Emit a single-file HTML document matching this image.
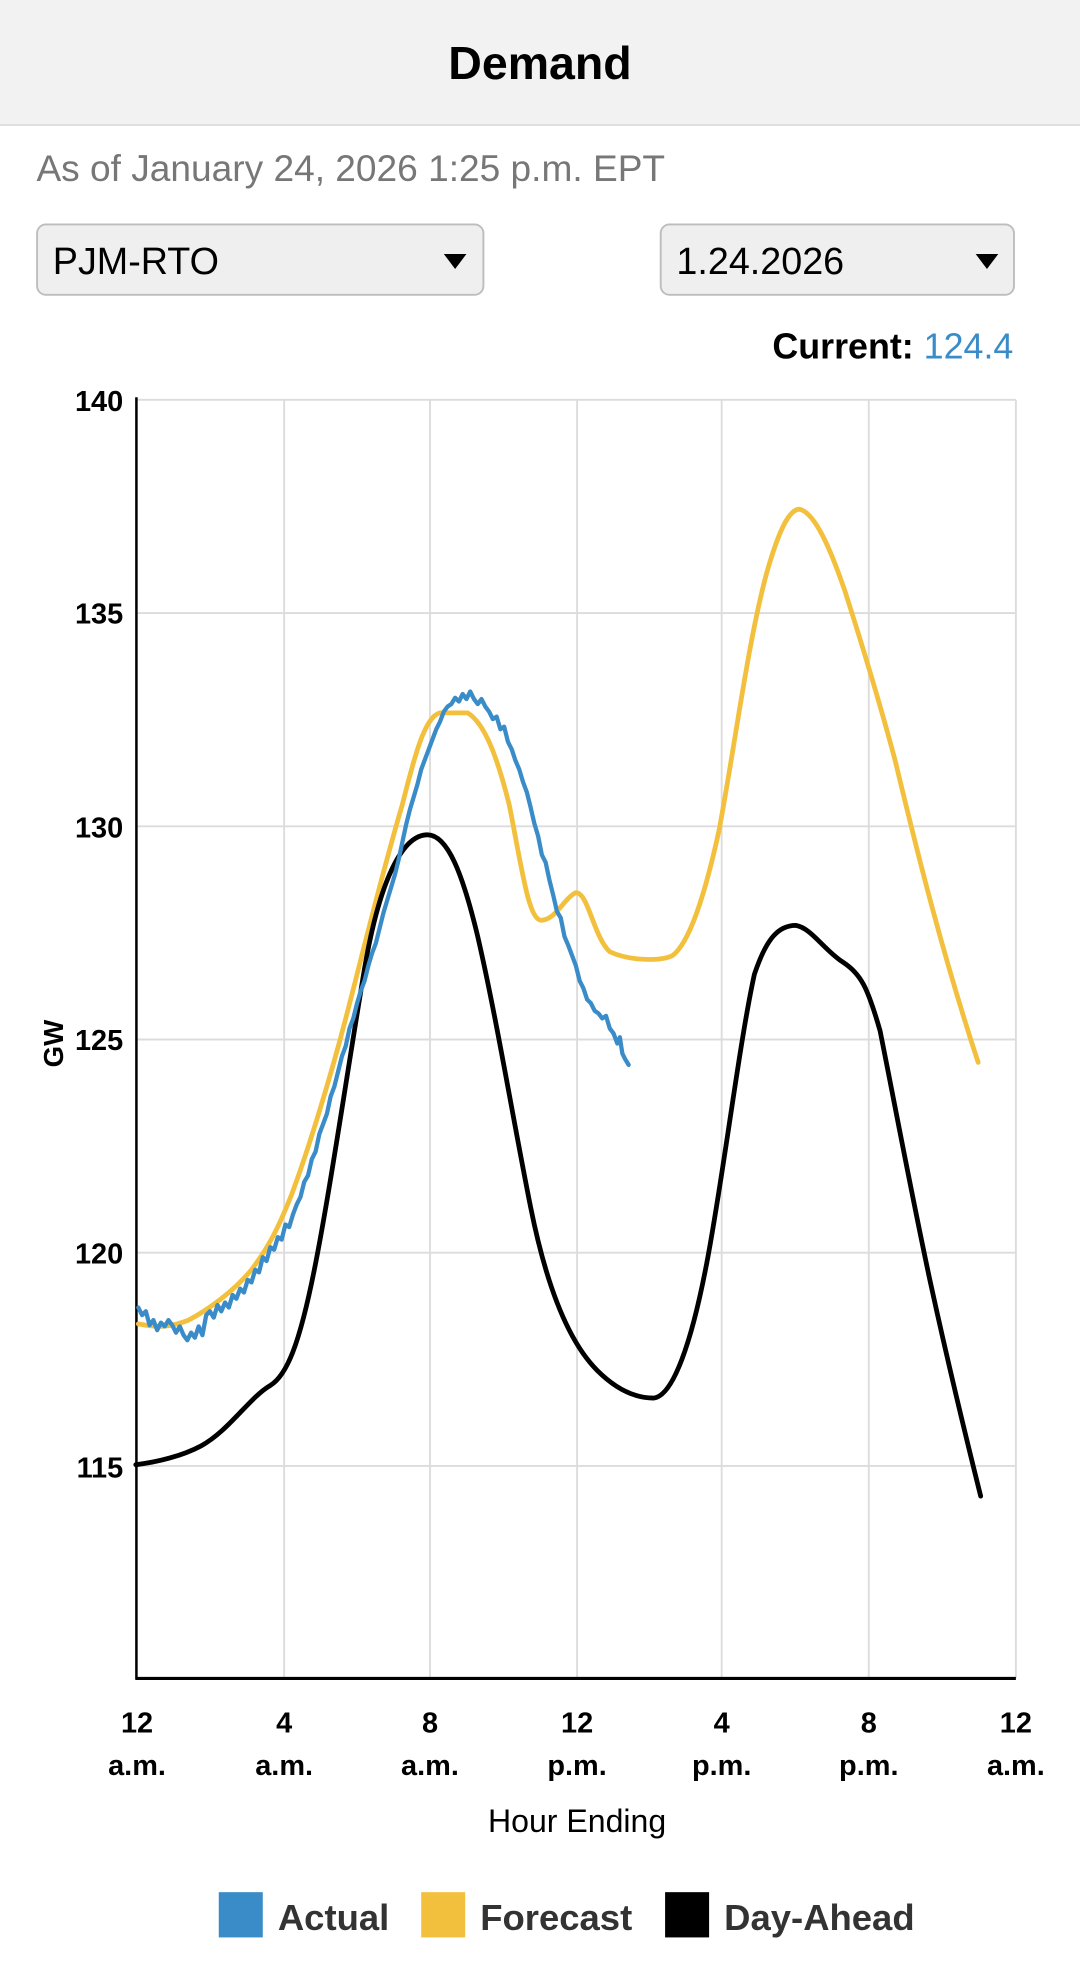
<!DOCTYPE html>
<html><head><meta charset="utf-8"><style>
html,body{margin:0;padding:0;background:#fff;width:1080px;height:1972px;overflow:hidden}
svg{display:block}
text{font-family:"Liberation Sans",sans-serif}
</style></head><body>
<svg width="1080" height="1972" viewBox="0 0 859 1568.5" preserveAspectRatio="none">
<rect x="0" y="0" width="859" height="99" fill="#f2f2f2"/>
<line x1="0" y1="99.5" x2="859" y2="99.5" stroke="#dedede" stroke-width="1.5"/>
<text x="429.5" y="63" text-anchor="middle" font-size="37" font-weight="bold" fill="#000">Demand</text>
<text x="29" y="144" font-size="29.5" fill="#777">As of January 24, 2026 1:25 p.m. EPT</text>
<rect x="29.5" y="178.5" width="355" height="56" rx="7" fill="#efefef" stroke="#bdbdbd" stroke-width="1.5"/>
<text x="42" y="218" font-size="30" fill="#000">PJM-RTO</text>
<path d="M353 202 L371 202 L362 214 Z" fill="#000"/>
<rect x="525.5" y="178.5" width="281" height="56" rx="7" fill="#efefef" stroke="#bdbdbd" stroke-width="1.5"/>
<text x="538" y="218" font-size="30" fill="#000">1.24.2026</text>
<path d="M776 202 L794 202 L785 214 Z" fill="#000"/>
<text x="806" y="285" text-anchor="end" font-size="28.5"><tspan font-weight="bold" fill="#000">Current: </tspan><tspan fill="#3a8cc8">124.4</tspan></text>
<g stroke="#dcdcdc" stroke-width="1.5">
<line x1="108" y1="318" x2="808" y2="318"/>
<line x1="108" y1="487.6" x2="808" y2="487.6"/>
<line x1="108" y1="657.2" x2="808" y2="657.2"/>
<line x1="108" y1="826.8" x2="808" y2="826.8"/>
<line x1="108" y1="996.4" x2="808" y2="996.4"/>
<line x1="108" y1="1166" x2="808" y2="1166"/>
<line x1="226" y1="318" x2="226" y2="1335"/>
<line x1="342" y1="318" x2="342" y2="1335"/>
<line x1="459" y1="318" x2="459" y2="1335"/>
<line x1="574" y1="318" x2="574" y2="1335"/>
<line x1="691" y1="318" x2="691" y2="1335"/>
<line x1="808" y1="318" x2="808" y2="1335"/>
</g>
<line x1="108.5" y1="316" x2="108.5" y2="1336" stroke="#000" stroke-width="2"/>
<line x1="108" y1="1335" x2="808" y2="1335" stroke="#000" stroke-width="2.5"/>
<g font-size="23" font-weight="bold" text-anchor="end" fill="#000">
<text x="98" y="327">140</text><text x="98" y="496">135</text><text x="98" y="666">130</text>
<text x="98" y="835">125</text><text x="98" y="1005">120</text><text x="98" y="1175">115</text>
</g>
<text transform="translate(50 830) rotate(-90)" text-anchor="middle" font-size="22" font-weight="bold">GW</text>
<g font-size="23" font-weight="bold" text-anchor="middle" fill="#000">
<text x="109" y="1378">12</text><text x="109" y="1412">a.m.</text>
<text x="226" y="1378">4</text><text x="226" y="1412">a.m.</text>
<text x="342" y="1378">8</text><text x="342" y="1412">a.m.</text>
<text x="459" y="1378">12</text><text x="459" y="1412">p.m.</text>
<text x="574" y="1378">4</text><text x="574" y="1412">p.m.</text>
<text x="691" y="1378">8</text><text x="691" y="1412">p.m.</text>
<text x="808" y="1378">12</text><text x="808" y="1412">a.m.</text>
</g>
<text x="459" y="1457" text-anchor="middle" font-size="25.5" fill="#000">Hour Ending</text>
<g fill="none" stroke-width="3.8" stroke-linejoin="round" stroke-linecap="round">
<path stroke="#f3c03e" d="M110,1053 C125,1056 135,1056 150,1050 C165,1042 185,1028 200,1010 C215,990 222,975 232,950 C245,915 262,860 275,810 C288,760 305,690 320,640 C330,600 338,570 350,567 L372,567 C385,575 395,600 405,640 C415,690 420,730 430,732 C442,732 448,715 458,710 C468,710 472,745 485,757 C500,764 525,765 535,760 C548,750 560,715 572,660 C585,590 595,510 610,455 C620,420 628,405 636,405 C648,408 660,435 672,470 C688,520 700,560 712,605 C730,680 750,760 778,845"/>
<path stroke="#000" d="M108,1165 C125,1163 145,1158 160,1150 C182,1138 198,1112 215,1102 C228,1094 238,1070 250,1010 C262,950 275,860 290,770 C302,700 320,664 340,664 C356,664 368,695 380,745 C395,810 408,890 422,960 C436,1030 455,1070 475,1090 C490,1105 505,1112 520,1112 C535,1110 550,1070 563,1000 C576,930 588,830 600,775 C610,745 620,736 633,736 C645,738 655,755 670,765 C685,775 690,785 700,820 C712,880 725,950 740,1020 C752,1075 765,1130 780,1190"/>
<path stroke="#3a8cc8" stroke-width="3.4" d="M110,1040 L113,1046 L116,1043 L119,1054 L122,1050 L125,1058 L128,1052 L131,1055 L134,1050 L137,1054 L140,1060 L143,1055 L146,1062 L149,1066 L152,1060 L155,1064 L158,1055 L161,1062 L164,1046 L167,1043 L170,1048 L173,1038 L176,1043 L179,1036 L182,1040 L185,1030 L188,1033 L191,1025 L194,1028 L197,1018 L200,1020 L203,1010 L206,1012 L209,1000 L212,1003 L215,992 L218,994 L221,984 L224,986 L227,974 L230,976 L233,966 L236,958 L239,952 L242,940 L245,935 L248,922 L251,916 L254,902 L257,894 L260,886 L263,872 L266,864 L269,852 L272,840 L275,832 L278,818 L281,810 L284,798 L287,788 L290,780 L293,768 L296,758 L299,750 L302,738 L305,726 L308,716 L311,706 L314,696 L317,684 L320,670 L323,656 L326,644 L329,634 L332,624 L335,612 L338,604 L341,596 L344,588 L347,580 L350,574 L353,566 L356,562 L359,560 L362,555 L365,558 L368,552 L371,556 L374,550 L377,556 L380,560 L383,556 L386,562 L389,566 L392,572 L395,570 L398,580 L401,578 L404,590 L407,596 L410,605 L413,612 L416,622 L419,630 L422,642 L425,655 L428,665 L431,680 L434,686 L437,700 L440,712 L443,725 L446,730 L449,745 L452,752 L455,760 L458,768 L461,780 L464,786 L467,795 L470,798 L473,804 L476,806 L479,810 L482,808 L485,818 L488,822 L491,830 L493,825 L495,838 L497,842 L500,847"/>
</g>
<rect x="174" y="1505" width="35" height="36" fill="#3a8cc8"/>
<text x="221" y="1535" font-size="29" font-weight="bold" fill="#333">Actual</text>
<rect x="335" y="1505" width="35" height="36" fill="#f3c03e"/>
<text x="382" y="1535" font-size="29" font-weight="bold" fill="#333">Forecast</text>
<rect x="529" y="1505" width="35" height="36" fill="#000"/>
<text x="576" y="1535" font-size="29" font-weight="bold" fill="#333">Day-Ahead</text>
</svg>
</body></html>
